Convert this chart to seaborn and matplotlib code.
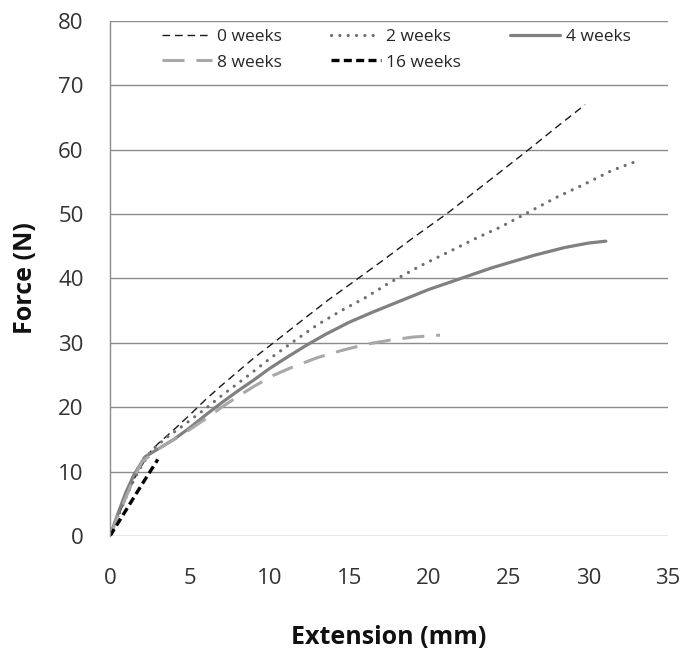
import matplotlib
matplotlib.use("Agg")
import matplotlib.pyplot as plt
import pandas as pd
import seaborn as sns

# Force-extension curves
weeks_0_x = [0, 0.5, 1, 1.5, 2, 2.5, 3, 4, 5, 6, 7, 8, 9, 10.2, 12, 13.6, 15, 17,
             19, 21.2, 23, 24.5, 26.4, 28, 29.8]
weeks_0_y = [0, 3, 6, 8.8, 11, 13, 14.3, 16.5, 18.8, 21.2, 23.4, 25.5, 27.6, 29.9,
             33.4, 36.5, 39, 42.6, 46.3, 50.2, 53.7, 56.6, 60.3, 63.5, 67.0]

weeks_2_x = [0, 0.5, 1, 1.5, 2, 2.6, 3.5, 4.5, 6, 7, 8.5, 10, 11.5, 13, 14.5, 16,
             17.5, 19.5, 21.3, 23, 24.5, 26.4, 28, 29.8, 31.5, 32.9]
weeks_2_y = [0, 3, 6, 8.7, 11, 13.3, 15.2, 17, 19.8, 21.8, 24.6, 27.5, 30.2, 32.8,
             35, 37, 39.3, 42, 44.2, 46.3, 48, 50.5, 52.6, 54.7, 56.8, 58.1]

weeks_4_x = [0, 0.5, 1, 1.5, 2.2, 3, 4, 5, 6, 7, 8, 9, 10, 11, 12.3, 13.5, 15,
             16.5, 18, 20, 22, 24, 26.6, 28.5, 30, 31.1]
weeks_4_y = [0, 3.5, 6.8, 9.5, 12.3, 13.5, 15, 16.8, 18.8, 20.7, 22.5, 24.2, 26,
             27.6, 29.6, 31.3, 33.2, 34.8, 36.3, 38.3, 40, 41.7, 43.6, 44.8, 45.5, 45.8]

weeks_8_x = [0, 0.5, 1, 1.5, 2, 3, 4.5, 6, 7, 8.1, 9, 10.2, 11.5, 13, 14.5, 16.1,
             17.5, 19, 20.7]
weeks_8_y = [0, 3, 6, 9, 11.5, 13.5, 15.7, 18.2, 20, 21.8, 23.2, 24.9, 26.3, 27.7,
             28.8, 29.8, 30.4, 30.9, 31.2]

weeks_16_x = [0, 1, 2, 3]
weeks_16_y = [0, 4, 8, 11.9]

series_labels = ["0 weeks", "2 weeks", "4 weeks", "8 weeks", "16 weeks"]
x_ticks = [0, 5, 10, 15, 20, 25, 30, 35]
y_ticks = [0, 10, 20, 30, 40, 50, 60, 70, 80]

curves = [
    (weeks_0_x, weeks_0_y),
    (weeks_2_x, weeks_2_y),
    (weeks_4_x, weeks_4_y),
    (weeks_8_x, weeks_8_y),
    (weeks_16_x, weeks_16_y),
]
frames = []
for label, (xs, ys) in zip(series_labels, curves):
    frames.append(pd.DataFrame({"extension": xs, "force": ys, "series": label}))
data = pd.concat(frames, ignore_index=True)

styles = {
    "0 weeks": dict(color="#1a1a1a", linewidth=1.0, linestyle=(0, (5.5, 3.5))),
    "2 weeks": dict(color="#6e6e6e", linewidth=2.3, linestyle=(0, (0.01, 2.6)),
                    dash_capstyle="round"),
    "4 weeks": dict(color="#808080", linewidth=2.3, linestyle="-"),
    "8 weeks": dict(color="#a8a8a8", linewidth=2.2, linestyle=(0, (7.2, 3.9))),
    "16 weeks": dict(color="#000000", linewidth=2.4, linestyle=(0, (2.4, 1.3))),
}

sns.set_theme(style="white")
plt.rcParams["font.family"] = ["Open Sans", "DejaVu Sans"]

fig = plt.figure(figsize=(6.82, 6.5), dpi=100)
ax = fig.add_axes([0.1613, 0.1754, 0.8182, 0.7923])

for label in series_labels:
    sub = data[data["series"] == label]
    sns.lineplot(data=sub, x="extension", y="force", ax=ax, sort=False,
                 estimator=None, label=label, **styles[label])

ax.set_xlim(0, 35)
ax.set_ylim(0, 80)
ax.set_xticks(x_ticks)
ax.set_yticks(y_ticks)
ax.tick_params(axis="x", length=0, pad=23, labelsize=16, labelcolor="#333333")
ax.tick_params(axis="y", length=0, pad=19, labelsize=16, labelcolor="#333333")
ax.yaxis.grid(True, color="#8c8c8c", linewidth=1.0)
ax.xaxis.grid(False)
for side in ["top", "right", "bottom"]:
    ax.spines[side].set_visible(False)
ax.spines["left"].set_color("#8c8c8c")
ax.spines["left"].set_linewidth(1.0)

ax.set_xlabel("Extension (mm)", fontsize=18, fontweight="bold", color="#111111",
              va="center")
ax.set_ylabel("Force (N)", fontsize=18, fontweight="bold", color="#111111",
              va="center")
ax.xaxis.set_label_coords(0.5, -0.198)
ax.yaxis.set_label_coords(-0.152, 0.5)

# legend fills column by column, so reorder to get the row layout of the reference
handles, labels = ax.get_legend_handles_labels()
order = [0, 3, 1, 4, 2]
ax.legend([handles[i] for i in order], [labels[i] for i in order],
          loc="upper left", bbox_to_anchor=(0.093, 0.985), ncol=3, frameon=False,
          fontsize=12.5, handlelength=2.9, handletextpad=0.3, columnspacing=2.8,
          labelspacing=0.55, borderpad=0, borderaxespad=0)

fig.savefig("out.png", dpi=100)
plt.close(fig)
